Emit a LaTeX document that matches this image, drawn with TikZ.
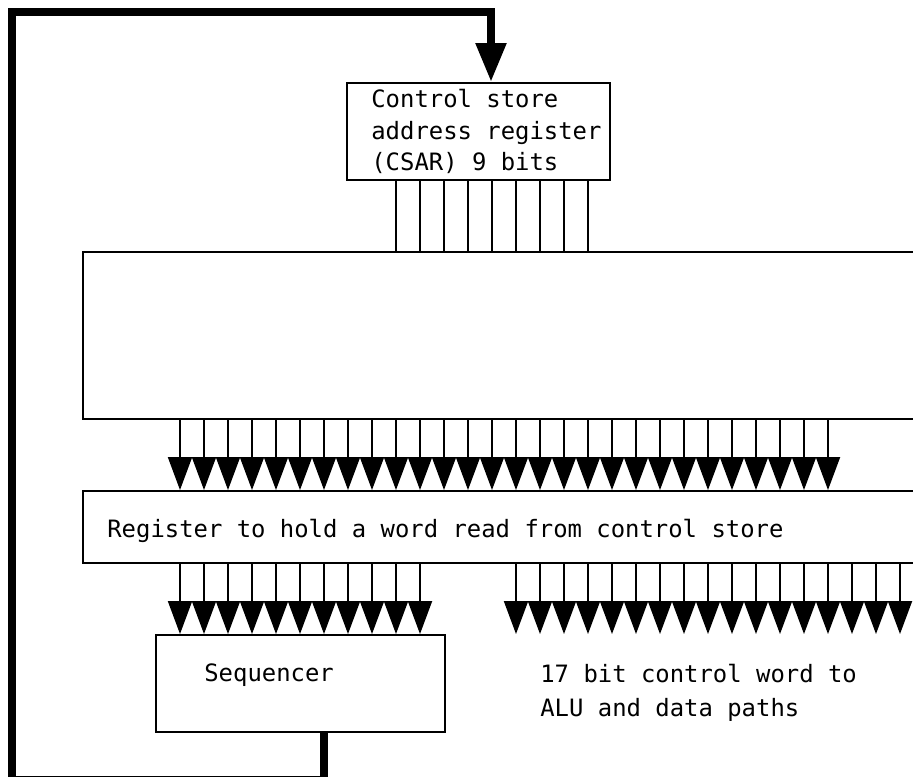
\documentclass[tikz,border=0pt]{standalone}
\usepackage{fontspec}
\setmonofont{DejaVu Sans Mono}
\usepackage{tikz}
\usetikzlibrary{arrows.meta,positioning}

\begin{document}
\begin{tikzpicture}[x=0.02cm,y=0.02cm,
  box/.style={draw,line width=1.1pt,inner sep=0pt},
  lbl/.style={inner sep=0pt,font=\ttfamily\fontsize{13.6}{18.1}\selectfont,align=left},
  wire/.style={line width=1.1pt},
  bus/.style={line width=1.1pt,-{Triangle[width=0.48cm,length=0.66cm]}},
  loopback/.style={line width=0.165cm,-{Triangle[width=0.58cm,length=0.78cm]}}]
\useasboundingbox (0,0) rectangle (913,777);
\clip (0,0) rectangle (913,777);

% boxes, the two wide ones run off the right edge
\node[box,minimum width=5.26cm,minimum height=1.94cm] (csar) at (478.5,645.5) {};
\node[lbl,anchor=west] (csartxt) at (371,645.5) {Control store\\address register\\(CSAR) 9 bits};
\node[box,minimum width=17.2cm,minimum height=3.34cm] (cstore) at (513,441.5) {};
\node[box,minimum width=17.2cm,minimum height=1.44cm] (wordreg) at (513,250) {};
\node[lbl,anchor=west] (regtxt) at (107,246) {Register to hold a word read from control store};
\node[box,minimum width=5.78cm,minimum height=1.94cm] (seq) at (300.5,93.5) {};
\node[lbl,anchor=west] (seqtxt) at (204,102) {Sequencer};
\node[lbl,anchor=west,font=\ttfamily\fontsize{13.6}{19.3}\selectfont] (ctrlword) at (540,84)
  {17 bit control word to\\ALU and data paths};

% 9 address lines into the store
\foreach \x in {396,420,...,588}
  \draw[wire] (\x,0 |- csar.south) -- (\x,0 |- cstore.north);
\foreach \x in {180,204,...,828}
  \draw[bus] (\x,0 |- cstore.south) -- (\x,0 |- wordreg.north);
\foreach \x in {180,204,...,420}
  \draw[bus] (\x,0 |- wordreg.south) -- (\x,0 |- seq.north);
\foreach \x in {516,540,...,900}
  \draw[bus] (\x,0 |- wordreg.south) -- (\x,0 |- seq.north);

% next address fed back to the CSAR
\draw[loopback] (324,0 |- seq.south) -- (324,-3) -| (12,765) -| (491,0 |- csar.north);
\end{tikzpicture}
\end{document}
